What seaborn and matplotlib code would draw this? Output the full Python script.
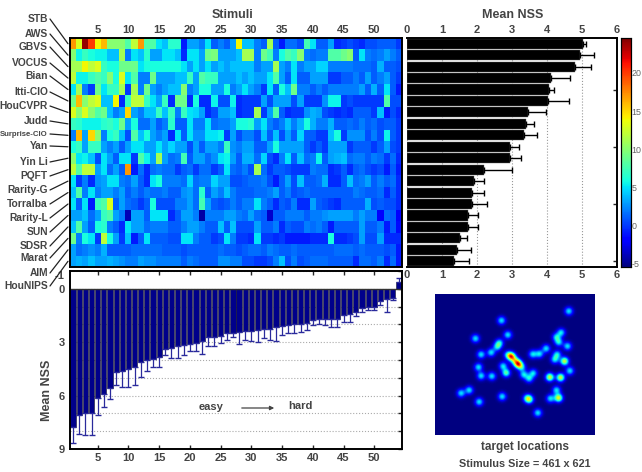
import matplotlib
matplotlib.use('Agg')
import matplotlib.pyplot as plt
import numpy as np
import pandas as pd
import seaborn as sns

W, H = 642, 472

model_names = ['STB', 'AWS', 'GBVS', 'VOCUS', 'Bian', 'Itti-CIO', 'HouCVPR', 'Judd', 'Surprise-CIO', 'Yan',
               'Yin Li', 'PQFT', 'Rarity-G', 'Torralba', 'Rarity-L', 'SUN', 'SDSR', 'Marat', 'AIM', 'HouNIPS']
label_y = [19, 34, 47, 63, 76, 92, 106, 121, 134, 146, 162, 176, 190, 204, 218, 232, 246, 258, 273, 286]

nss_matrix = [
    [17, 13, 24, 20, 14, 16, 10, 10, 10, 8, 12, 17, 8, 8, 5, 4, 6.5, 6.5, -1, 3, 3, 2, 5, 1, 2, 1, 3, 14, 4, 4, 2, 1, 11, 1, -1, 1.5, 1.5, .5, 7.5, 5, 1, 1, 3, -.5, 0, .5, 0, -.5, .5, .5, 1, 1, 1, 0],
    [10, 5.5, 7, 6, 5.5, 5.5, 4, 4, 11, 2, 5, 4, 6.5, 3, 3, 5, 5, 4, -.5, 5, 5, 3, 9, 9.5, 3, 3, 3, 4, 11, 11, 2, 9, 7.5, 2, 6, 8, 7, 10, 2, 1.5, 2, 2, 8, 8, 9, 10, 1, 5, 2, 1.5, 2, 3, 2, 1],
    [11, 11, 14, 12, 13, 7, 6, 6, 9, 9, 9, 5, 6, 6, 6, 6, 6, 6, 5, 3, 5, 3, 5, 3, 4, 3, 4, 4, 4, 4, 2, 3, 3, 11, 3, 2, 5, 2, 3, 3, 4.5, 4.5, 2, 2, 2, 2, 1.5, 1.5, 1.5, 1, 3.5, 1, 1, .5],
    [12, 5.5, 5.5, 7, 8, 7, 10, 6, 13, 5, 8, 2, 2, 9, 3, 3, 3, 4, 4, 7, 3, 8, 7, 7, 3, 3, 3, 4, 3, 4, 3, 3, 5, 8, 3, 1, 5, 1, 1, 3, 3, 3, 0, 0, 1, 1, 2, 1, 3, 1, 2, 3, 1, 0],
    [5, 11, 2, 0, 9, 5, 7, 7, 11, 0, 11, 2, 9, 3, 2, 3, 4, 4, 10, 2, 3, 6, 6, 3, 3, 6, 2, 3, 5, 3, 2, 0, 5, 1, 6, 4, 9, 2, 2, 1, 2, 1, 2, 2, 2, 2, 2, 3, 1, 3.5, 1, 5, 1, -1],
    [9, 16, 10, 12, 13, 4, 4, 14, -.5, 7, 12, 12, 7, 5, 3, 7, -.5, 9, 9, -.5, 6, -.5, -.5, 5.5, .5, .5, 5.5, -.5, 0, 0, 0, 3, .5, 3, 3, 3, .5, 3, 0, 0, 0, 2.5, 5.5, 5.5, 0, .5, 0, 0, 0, 0, 0, 8, .5, .5],
    [13, 10, 13, 10, 8, 9, 4, 2, 3, 15, 3, 2, 4, 4, 7, 4, 7, 2, 7, 5, 4.5, 3, -.5, .5, 3, 3, 4, -.5, 0, 0, 11, 0, 3, 8, 1, -.5, 0, 0, 2.5, 3.5, 3, .5, 0, -.5, 0, -.5, 1, 1, 1, 0, 4, -1, .5, -.5],
    [7, 6.5, 5.5, 5.5, 5.5, 6.5, 7, 6, 9, 3, 6, 1.5, 1.5, 3, 1, 2, 6.5, 1, 1, 5, 2, 2, 5, 1.5, 2, 2, 3, 6, 6, 6.5, 3, 5, 2, 1, 2, 4, 2, 3.5, 6, 3.5, 2, 2, 3.5, 1, 1, 1.5, 1, 2, 1, 1.5, .5, 1, 1, 0],
    [2, 16, 3, 15, 10, 2, 6, 7, 4, .5, 8, 4, 6, 3, 2, 3, -.5, 5, 1, 5, 2.5, 2.5, 5, 5, 5.5, 0, 3, .5, 2, 2, .5, 4, 1, 4, .5, 3, 1, 4.5, 1, 1, 0, 0, 4, 6, 0, 2.5, 2.5, 2.5, .5, 2, .5, 5.5, 1, 0],
    [6, 7, 3, 7, 7, 3, 2, 3, 1, 3, 5, 5, 3, 3, 5, 3, 4.5, 3, 3, .5, 3, 1, 3, 3, 2, 7, 2.5, 2, 3, 3, 1, 1, 3, 6, 3, 3, 3, 3, 1, 0, 1, 0, 3, 3, 3, 0, 1, 1, 1, 0, 1, 3, .5, 0],
    [10, 5, 5.5, 4, .5, 5, 3, 1, 5, 5, 0, 8, 5.5, 3, 11, 3, 1.5, 2, 7.5, 1, 3, 3, 1.5, 2.5, 5, 5.5, 3, 1, 3.5, 3.5, 1.5, 4.5, .5, -.5, 2, 5, 1, 4, 1.5, 2, 5.5, 1, 3, 3.5, 4, 1.5, 2, 2, 1, 2, 1.5, 0, 1.5, -.5],
    [12, 8, 12, 12, 3, 5, 1.5, 3, 1, 17, -1, 1.5, -.5, 1.5, 2, 1.5, 1.5, 0, 1, 1.5, 0, 1.5, 1.5, 0, 1, 5, 1.5, 1, 2, .5, 11, 1.5, 0, 1, 1, .5, 0, 0, 0, 2, 1.5, 1.5, -.5, 0, 1, -.5, 1, 1.5, .5, 0, .5, -1, 1, -1],
    [5, 0, 2, -.5, 2.5, 3, 5, 5, 2, 1.5, 3, 1, -.5, 5, 6, 2, 2, 2, 1.5, 4.5, 1.5, 2, 2, 4.5, 3, 3, .5, .5, 1, 1.5, 1.5, 2, .5, -1, 1, 3, .5, 4, 1, 1, 1.5, 3.5, -.5, -.5, 1, 4, 1.5, 2, 3, 1, 2, 1, 1.5, -.5],
    [4, 8, 2, 5, 2, 3, 3, 2, 3, 1, 2, 1, 2, 1.5, 1.5, 2, 1, 1, 2.5, 3, 1.5, 6.5, 1, 3, 2, 4, 2, 1, 1, 1, 1.5, 1.5, 2, 3, 1, 2, .5, 1, 1.5, 1, 1, 1, 1, 1, 1, 1, 2, 1.5, 1, 1, 1.5, -.5, 1, -.5],
    [5, 1, 5, -1, 7, 8, 13, 1, 3, 1.5, 1, 0, 1, 6, .5, .5, .5, 2, 2, 3, 1.5, 7.5, 3, 1, .5, 1, 2, 1, 2, 2, 5, 2, 1, -.5, 1, .5, 2, -.5, -.5, 3, 1, .5, 0, -.5, 1, 1, 1, 1, 3.5, .5, 1, .5, .5, -.5],
    [3, 3, 4, 1.5, 3, 7, 8, 3, 2, -4, 3, 3, 1, 5, 5, 5, -.5, 1, 3, 3, 2, -4.5, 2, 2, 2, 3, 3, 2, 1.5, 3, 1.5, 1, -3.5, 1, 1, 2, 2, 2, 1, 2, 2, 2.5, 3, 3, 3, 3, 2, 3, 2, 2, -2, 1.5, 1, -2],
    [4, 8, 3, 1, 6, 6.5, 2, 1, -.5, 5, 3, 3, 1.5, 2, 2, 2, 1, 1, 2, 3, 3, 2, 1, 1, 4, 1, 4, .5, .5, .5, 3, 1, 1, 2, -.5, 1, .5, .5, 2, 1.5, 2, 1, -1, 1, 1, 1, 1, 3, 1, 1, 2, -1, 1, -1.5],
    [9, 2, 6, 5, 0, 12, 6, 3, 0, 4, -1, 1, 5, 1, 1, 1, .5, .5, 5, 5, 2, 1, 1, 0, .5, 5, 2, 0, 0, -.5, 5, 0, 0, -.5, 0, -1, -1, -1, -1, -.5, -.5, -.5, 6, -.5, -.5, 0, .5, 3, .5, .5, 3, -.5, -.5, -.5],
    [3, 1.5, 2, 2.5, 2, 3.5, 1, 1, 1, 1, 1.5, 1.5, 1.5, 1.5, 1.5, 1, 1, 1, .5, 1, 1, 1, 1, 1, 1.5, 1, 1, .5, 1, 1.5, 1.5, 1, 2, 1.5, 1, 1, 1.5, 1, 1, 1, 1, 1, 1, 1.5, 1.5, 1.5, 1, 1.5, 1, 1, 1, .5, 1, -1],
    [3, 3.5, 3, 4, 3, 3, 3.5, 3, 2.5, 2, 2, 3, 2.5, 2.5, 2, 2, 2, 2, 1, 2, 1.5, 1, 1, 1, 2.5, 2.5, 2, 2, .5, .5, 0, 0, .5, 2, 4, .5, 2, .5, 1, 1.5, 1.5, 1.5, 1, 1, 1, 1, -.5, 1.5, 1.5, 1, 2, -.5, 1.5, -1],
]

model_mean = [5.03, 4.95, 4.80, 4.12, 4.05, 4.03, 3.47, 3.40, 3.35, 2.95, 2.93, 2.19, 1.90, 1.87, 1.85, 1.75, 1.75, 1.52, 1.43, 1.33]
model_err_end = [5.12, 5.33, 5.25, 4.65, 4.19, 4.64, 3.97, 3.62, 3.70, 3.20, 3.26, 3.00, 2.19, 2.20, 2.29, 2.02, 2.03, 1.70, 1.82, 1.78]

stim_mean = [7.74, 7.09, 7.0, 7.0, 6.15, 5.92, 5.55, 4.68, 4.64, 4.53, 4.41, 4.13, 4.02, 3.96, 3.83, 3.4, 3.34, 3.2,
             3.13, 3.09, 3.06, 2.96, 2.7, 2.7, 2.66, 2.51, 2.47, 2.42, 2.36, 2.36, 2.32, 2.28, 2.26, 2.17, 2.09, 2.06,
             2.0, 1.95, 1.9, 1.75, 1.7, 1.7, 1.68, 1.68, 1.47, 1.43, 1.32, 1.06, 1.02, 1.02, 0.7, 0.58, 0.49, -0.38]
stim_err_end = [8.68, 8.15, 8.23, 8.23, 7.08, 6.66, 6.19, 5.4, 5.5, 5.53, 5.43, 4.94, 4.6, 4.41, 4.38, 3.7, 3.87, 3.87,
                3.74, 3.5, 3.47, 3.64, 3.23, 3.23, 3.02, 2.9, 2.72, 3.11, 2.9, 2.92, 3.0, 2.74, 2.89, 2.94, 2.57, 2.47,
                2.5, 2.45, 2.32, 2.04, 1.98, 2.06, 2.15, 2.15, 1.89, 1.87, 1.55, 1.32, 1.19, 1.21, 0.91, 1.3, 0.64, -0.6]

# target positions in map units (480 x 423), weight is how strong the spot is
target_x = [400, 198, 120, 217, 363, 377, 370, 396, 192, 185, 332, 312, 292, 167, 137, 228, 248, 218, 238, 258, 365,
            358, 387, 129, 203, 212, 403, 293, 265, 281, 137, 169, 343, 375, 101, 77, 363, 200, 345, 369, 275, 282, 131, 307]
target_y = [50, 78, 132, 121, 128, 114, 143, 155, 145, 157, 162, 178, 179, 174, 180, 186, 208, 181, 198, 218, 180,
            195, 200, 218, 215, 235, 229, 236, 240, 252, 244, 245, 248, 249, 287, 296, 287, 306, 312, 310, 311, 315, 322, 355]
target_w = [1, 1, 1, 1, 1, 1, 1, 1, 1, 1, 1, 1, 1, 1, 1, 2.0, 2.2, 1, 1.2, 1, 1, 1, 1.7, 1, 1, 1.3, 1, 1, 1, 1, 1, 1,
            1.7, 1.7, 1, 1, 1, 1, 1, 1.8, 1, 1.2, 1, 1]

text_color = '#444444'

sns.set_theme(style='white')
plt.rcParams['font.family'] = ['Liberation Sans', 'DejaVu Sans']
plt.rcParams['font.weight'] = 'bold'
plt.rcParams['axes.linewidth'] = 1.4
plt.rcParams['axes.edgecolor'] = 'black'


def px_axes(fig, left, top, right, bottom):
    # axes placed by pixel box
    return fig.add_axes([left / W, 1 - bottom / H, (right - left) / W, (bottom - top) / H])


def show_box(ax):
    for spine in ax.spines.values():
        spine.set_visible(True)
        spine.set_linewidth(1.4)
        spine.set_color('black')


fig = plt.figure(figsize=(W / 100, H / 100), dpi=100)

ax_heat = px_axes(fig, 70, 38, 402, 267)
ax_bar = px_axes(fig, 407, 38, 617, 267)
ax_cbar = px_axes(fig, 621, 38, 631, 267)
ax_stim = px_axes(fig, 70, 271, 402, 449)
ax_map = px_axes(fig, 435, 294, 595, 435)

# stimuli x models heatmap
df_heat = pd.DataFrame(nss_matrix, index=model_names, columns=range(1, 55))
sns.heatmap(df_heat, cmap='jet', vmin=-5.5, vmax=24.6, ax=ax_heat, cbar_ax=ax_cbar,
            cbar_kws={'ticks': [-5, 0, 5, 10, 15, 20]})
show_box(ax_heat)
ax_heat.set_xlabel('')
ax_heat.set_ylabel('')
ax_heat.xaxis.tick_top()
ax_heat.set_xticks(np.arange(5, 55, 5) - 0.5)
ax_heat.set_xticklabels(range(5, 55, 5), rotation=0, fontsize=8, color=text_color)
ax_heat.set_yticks(np.arange(20) + 0.5)
ax_heat.set_yticklabels([])
ax_heat.tick_params(axis='both', direction='in', length=3, width=1, color='black', pad=2,
                    left=True, right=True, top=True, bottom=False)
fig.text(233 / W, 1 - 15 / H, 'Stimuli', ha='center', va='center', fontsize=9, color=text_color)

ax_cbar.set_yticks([-5, 0, 5, 10, 15, 20])
ax_cbar.set_yticklabels(['-5', '0', '5', '10', '15', '20'], fontsize=6.4, color='#666666', fontweight='normal')
ax_cbar.tick_params(axis='y', length=0, pad=0.5, right=False)
for spine in ax_cbar.spines.values():
    spine.set_visible(True)
    spine.set_linewidth(0.8)

# model names with leader lines to the rows
for i, name in enumerate(model_names):
    size = 5.6 if name == 'Surprise-CIO' else 7.4
    fig.text(48 / W, 1 - label_y[i] / H, name, ha='right', va='center', fontsize=size, color=text_color)
    row_y = 38 + 229 / 20 * (i + 0.5)
    fig.add_artist(plt.Line2D([50 / W, 68 / W], [1 - label_y[i] / H, 1 - row_y / H], color='#222222', lw=0.9))

# mean NSS by model
df_model = pd.DataFrame({'model': model_names, 'mean': model_mean})
sns.barplot(data=df_model, x='mean', y='model', color='black', saturation=1, width=0.88, ax=ax_bar,
            edgecolor='#666666', linewidth=0.3)
ax_bar.errorbar(model_mean, range(20), xerr=[np.zeros(20), np.array(model_err_end) - np.array(model_mean)],
                fmt='none', ecolor='black', elinewidth=1, capsize=2.2, capthick=1)
show_box(ax_bar)
ax_bar.spines['left'].set_visible(False)
ax_bar.set_xlim(0, 6)
ax_bar.set_ylim(19.5, -0.5)
ax_bar.set_xlabel('')
ax_bar.set_ylabel('')
ax_bar.set_yticks([4, 9, 14, 19])
ax_bar.set_yticklabels([])
ax_bar.set_xticks(range(7))
ax_bar.set_xticklabels(range(7), fontsize=8, color=text_color)
ax_bar.grid(True, axis='x', linestyle=':', color='#999999', lw=0.8)
ax_bar.set_axisbelow(True)
ax_bar.tick_params(axis='x', length=0, pad=2, bottom=True, top=True, labelbottom=True, labeltop=True)
ax_bar.tick_params(axis='y', direction='in', length=3, width=1, left=False, right=True)
fig.text(513 / W, 1 - 15 / H, 'Mean NSS', ha='center', va='center', fontsize=9, color=text_color)

# mean NSS by stimulus
df_stim = pd.DataFrame({'stimulus': range(1, 55), 'mean': stim_mean})
sns.barplot(data=df_stim, x='stimulus', y='mean', color='#00008b', saturation=1, width=0.84, ax=ax_stim,
            edgecolor='#1a1a2a', linewidth=0.4)
stim_mean_arr = np.array(stim_mean)
stim_end_arr = np.array(stim_err_end)
ax_stim.errorbar(range(54), stim_mean_arr,
                 yerr=[np.clip(stim_mean_arr - stim_end_arr, 0, None), np.clip(stim_end_arr - stim_mean_arr, 0, None)],
                 fmt='none', ecolor='#2a2a9c', elinewidth=0.9, capsize=2.4, capthick=1)
show_box(ax_stim)
ax_stim.axhline(0, color='#333333', lw=1)
ax_stim.set_xlim(-0.5, 53.5)
ax_stim.set_ylim(9, -1)
ax_stim.set_xlabel('')
ax_stim.set_ylabel('')
ax_stim.set_xticks(np.arange(5, 55, 5) - 1)
ax_stim.set_xticklabels(range(5, 55, 5), fontsize=8, color=text_color)
ax_stim.set_yticks([-1, 0, 3, 6, 9])
ax_stim.set_yticklabels(['-1', '0', '3', '6', '9'], fontsize=8, color=text_color)
ax_stim.get_yticklabels()[0].set_va('top')
ax_stim.set_yticks(range(1, 9), minor=True)
ax_stim.grid(True, axis='y', which='both', linestyle=':', color='#aaaaaa', lw=0.8)
ax_stim.set_axisbelow(True)
ax_stim.tick_params(axis='x', direction='in', length=3, width=1, pad=3, bottom=True, top=True)
ax_stim.tick_params(axis='y', which='both', direction='in', length=3, width=1, pad=4, left=False, right=True)
fig.text(47 / W, 1 - 390 / H, 'Mean NSS', rotation=90, ha='center', va='center', fontsize=9, color=text_color)
fig.text(211 / W, 1 - 407 / H, 'easy', ha='center', va='center', fontsize=8, color=text_color)
fig.text(300 / W, 1 - 406 / H, 'hard', ha='center', va='center', fontsize=8, color=text_color)
ax_stim.annotate('', xy=(277 / W, 1 - 408 / H), xytext=(239 / W, 1 - 408 / H), xycoords='figure fraction',
                 textcoords='figure fraction', arrowprops=dict(arrowstyle='-|>', color='#444444', lw=0.9, mutation_scale=6))

# target location map, blurred spots on a grid
grid_x, grid_y = np.meshgrid(np.arange(0, 480, 3), np.arange(0, 423, 3))
target_map = np.zeros_like(grid_x, dtype=float)
for tx, ty, tw in zip(target_x, target_y, target_w):
    target_map += tw * np.exp(-((grid_x - tx) ** 2 + (grid_y - ty) ** 2) / (2 * 8.5 ** 2))
sns.heatmap(target_map, cmap='jet', vmin=0, vmax=2.9, cbar=False, xticklabels=False, yticklabels=False, ax=ax_map)

fig.text(525 / W, 1 - 447 / H, 'target locations', ha='center', va='center', fontsize=8.5, color=text_color)
fig.text(525 / W, 1 - 464 / H, 'Stimulus Size = 461 x 621', ha='center', va='center', fontsize=7.8, color=text_color)

fig.savefig('out.png', dpi=100)
